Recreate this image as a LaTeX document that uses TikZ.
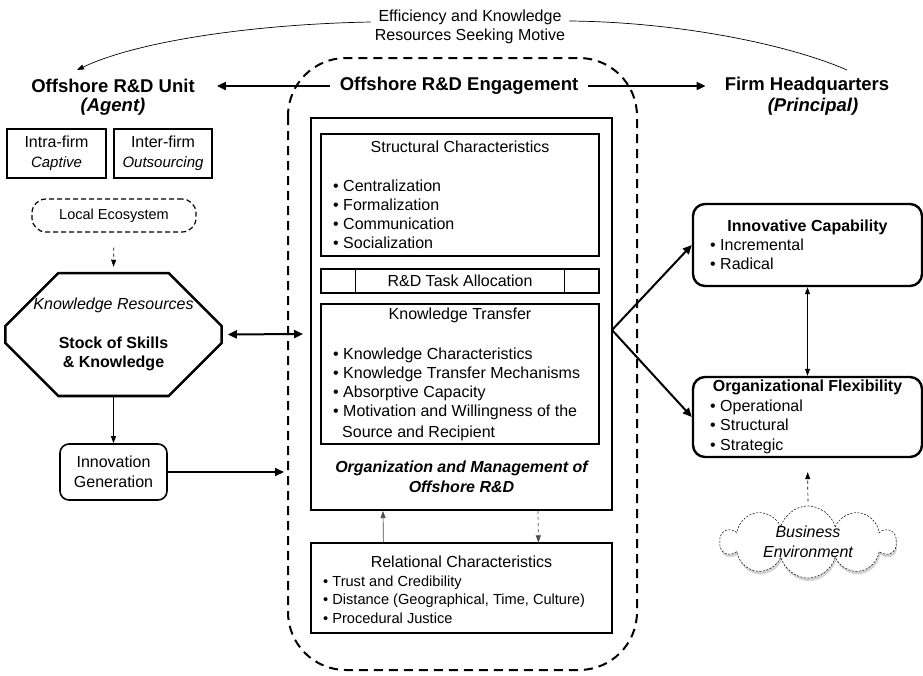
\documentclass[tikz,border=0pt]{standalone}
\usepackage{fontspec}
\setmainfont{Liberation Sans}
\usepackage{tikz}
\usetikzlibrary{arrows.meta, positioning, calc, shapes.misc, shapes.symbols, shadows}
\newcommand{\bodysize}{\fontsize{16}{19.5}\selectfont}
\newcommand{\smallsize}{\fontsize{14.6}{18.5}\selectfont}
\newcommand{\headsize}{\fontsize{18.5}{21}\selectfont}

\begin{document}
\begin{tikzpicture}[x=1pt, y=-1pt,
  plainbox/.style={draw, line width=1.2pt, inner sep=0pt},
  mainbox/.style={draw, line width=2pt, inner sep=0pt},
  capbox/.style={draw, line width=2.4pt, rounded corners=12pt, inner sep=0pt, minimum width=229pt},
  heading/.style={font=\headsize\bfseries, inner sep=0pt},
  boxtitle/.style={font=\bodysize, inner sep=0pt},
  listitem/.style={font=\bodysize, anchor=west, inner sep=0pt, text height=11pt, text depth=3pt},
  smallitem/.style={listitem, font=\smallsize},
  arr/.style={-{Triangle[length=9pt, width=8pt]}, line width=2pt},
  dblarr/.style={{Triangle[length=9pt, width=8pt]}-{Triangle[length=9pt, width=8pt]}, line width=2pt},
  thinarr/.style={-{Triangle[length=7pt, width=5pt]}, line width=0.7pt},
  thindbl/.style={{Triangle[length=7pt, width=5pt]}-{Triangle[length=7pt, width=5pt]}, line width=0.7pt},
]
\useasboundingbox (0,0) rectangle (923,675);

% motive on top
\node[boxtitle, align=center] (motive) at (470,27) {Efficiency and Knowledge\\Resources Seeking Motive};
\coordinate (lefttip) at (77,70);
\coordinate (righttip) at (847,70);
\draw[thinarr] ($(motive.west)+(-4,-5)$) .. controls (260,24) and (140,40) .. (lefttip);
\draw[line width=0.7pt] ($(motive.east)+(4,-6)$) .. controls (680,22) and (790,45) .. (righttip);

% actors
\node[heading] (unit) at (113,86) {Offshore R\&D Unit};
\node[heading, font=\headsize\bfseries\itshape] (agent) at (113,107) {(Agent)};
\node[heading] (eng) at (459,86) {Offshore R\&D Engagement};
\node[heading] (hq) at (807,86) {Firm Headquarters};
\node[heading, font=\headsize\bfseries\itshape] (principal) at (813,107) {(Principal)};
\draw[arr, shorten <=10pt, shorten >=22pt] (eng.west) -- (unit.east);
\draw[arr, shorten <=10pt, shorten >=19pt] (eng.east) -- (hq.west);

% engagement frame
\draw[line width=2pt, dash pattern=on 9pt off 6pt, rounded corners=58pt] (288,58) rectangle (637,670);

% offshore unit side
\node[plainbox, minimum width=99pt, minimum height=49pt, align=center, font=\bodysize] (intra) at (56.5,153.5) {Intra-firm\\{\fontsize{15}{17}\selectfont\itshape Captive}};
\node[plainbox, minimum width=98pt, minimum height=49pt, align=center, font=\bodysize] (inter) at (163,153.5) {Inter-firm\\{\fontsize{15}{17}\selectfont\itshape Outsourcing}};
\node[plainbox, dash pattern=on 5pt off 3pt, rounded corners=14pt, minimum width=164pt, minimum height=33pt, font=\fontsize{14.5}{17}\selectfont] (eco) at (114,215.5) {Local Ecosystem};
\node[draw, line width=2.5pt, chamfered rectangle, chamfered rectangle xsep=28pt, chamfered rectangle ysep=25pt,
  minimum width=213pt, minimum height=91pt, inner sep=0pt, align=center, font=\bodysize] (stock) at (113.5,334.5)
  {\textit{Knowledge Resources}\\[19pt]\textbf{Stock of Skills}\\\textbf{\& Knowledge}};
\node[draw, line width=1.6pt, rounded corners=9pt, minimum width=107pt, minimum height=56pt, inner sep=0pt, align=center, font=\bodysize] (gen) at (113.5,472) {Innovation\\Generation};
\coordinate (stockend) at (303,334);
\coordinate (genend) at (284,472);
\draw[thinarr, dashed, shorten <=15pt, shorten >=5pt] (eco.south) -- (stock.north);
\draw[thinarr] (stock.south) -- (gen.north);
\draw[dblarr, shorten <=5pt] (stock.east) -- (stockend);
\draw[arr] (gen.east) -- (genend);

% organization and management
\node[mainbox, minimum width=301pt, minimum height=392pt] (orgbox) at (461.5,314) {};
\node[plainbox, minimum width=278pt, minimum height=122pt] (struct) at (460,195) {};
\node[plainbox, minimum width=278pt, minimum height=24pt, font=\bodysize] (task) at (460,281) {R\&D Task Allocation};
\draw[line width=1.2pt] ($(task.north west)+(35,0)$) -- ($(task.south west)+(35,0)$);
\draw[line width=1.2pt] ($(task.north east)+(-35,0)$) -- ($(task.south east)+(-35,0)$);
\node[plainbox, minimum width=278pt, minimum height=140pt] (transfer) at (460,374) {};
\node[boxtitle] (struct-t) at (460,147) {Structural Characteristics};
\node[boxtitle] (transfer-t) at (460,315) {Knowledge Transfer};
\foreach \t [count=\i] in {Centralization, Formalization, Communication, Socialization}
  \node[listitem] (struct-\i) at (333,{187+19.3*(\i-1)}) {\textbullet\ \t};
\foreach \t [count=\i] in {Knowledge Characteristics, Knowledge Transfer Mechanisms, Absorptive Capacity, Motivation and Willingness of the}
  \node[listitem] (transfer-\i) at (333,{355+19.3*(\i-1)}) {\textbullet\ \t};
\node[listitem] (transfer-5) at (342,433) {Source and Recipient};
\node[boxtitle, align=center, font=\bodysize\bfseries\itshape] (orgbox-t) at (461.5,477) {Organization and Management of\\Offshore R\&D};

% relational characteristics
\node[plainbox, minimum width=301pt, minimum height=90pt] (rel) at (461.5,588) {};
\node[boxtitle] (rel-t) at (461.5,562) {Relational Characteristics};
\foreach \t [count=\i] in {Trust and Credibility, {Distance (Geographical, Time, Culture)}, Procedural Justice}
  \node[smallitem] (rel-\i) at (323,{582+18.5*(\i-1)}) {\textbullet\ \t};
\draw[thinarr, black!70] ($(rel.north west)+(73,0)$) -- ($(orgbox.south west)+(73,0)$);
\draw[thinarr, dashed, black!70] ($(orgbox.south west)+(228,0)$) -- ($(rel.north west)+(228,0)$);

% outcomes
\node[capbox, minimum height=82pt] (innov) at (807.5,245) {};
\node[capbox, minimum height=80pt] (flex) at (807.5,417) {};
\node[boxtitle, font=\bodysize\bfseries] (innov-t) at (807.5,227) {Innovative Capability};
\node[boxtitle, font=\bodysize\bfseries] (flex-t) at (807.5,387) {Organizational Flexibility};
\foreach \t [count=\i] in {Incremental, Radical}
  \node[listitem] (innov-\i) at (710,{246+19.5*(\i-1)}) {\textbullet\ \t};
\foreach \t [count=\i] in {Operational, Structural, Strategic}
  \node[listitem] (flex-\i) at (710,{407+19.5*(\i-1)}) {\textbullet\ \t};
\coordinate (fork) at (612,330);
\draw[arr] (fork) -- (innov.west);
\draw[arr] (fork) -- (flex.west);
\draw[thindbl] (innov.south) -- (flex.north);

% business environment
\node[cloud, cloud puffs=10, cloud ignores aspect, draw, line width=0.5pt, dash pattern=on 2pt off 1.5pt, fill=white,
  drop shadow={shadow xshift=1pt, shadow yshift=-3pt, opacity=0.35},
  minimum width=175pt, minimum height=64pt, inner sep=0pt, align=center, font=\bodysize\itshape] (bizenv) at (808,542) {Business\\Environment};
\draw[thinarr, dashed, shorten <=4pt, shorten >=14pt] (bizenv.north) -- (flex.south);
\end{tikzpicture}
\end{document}
